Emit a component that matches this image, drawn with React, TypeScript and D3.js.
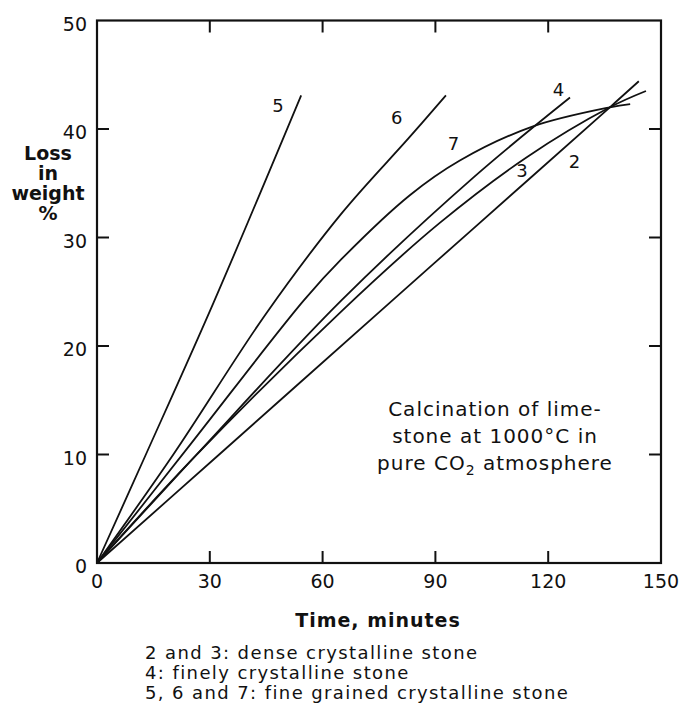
import React, { useEffect } from "react";
import * as d3 from "d3";

// Calcination of limestone: loss in weight (%) vs time (minutes)
const curve2 = [[0, 0], [32.5, 10], [77.9, 24], [100, 30.8], [136.4, 42.0], [144.1, 44.4]];
const curve3 = [[0, 0], [26, 9.8], [65, 23.2], [91, 31.3], [114.3, 37.4], [136.4, 42.0], [146, 43.5]];
const curve4 = [[0, 0], [26.5, 10], [65, 24.2], [100, 35.5], [125.8, 42.9]];
const curve5 = [[0, 0], [13, 10], [31, 24], [54.3, 43.1]];
const curve6 = [[0, 0], [20.3, 10], [45, 23], [65, 32.2], [83, 39.2], [92.8, 43.1]];
const curve7 = [[0, 0], [25, 11], [55, 24.2], [65, 28.0], [83.2, 33.9], [96.5, 37.1], [115.6, 40.2], [136.4, 42.0], [141.8, 42.3]];

const curves = [curve2, curve3, curve4, curve5, curve6, curve7];
const curveLabels = ["2", "3", "4", "5", "6", "7"];
// label anchor (time, loss) for each curve number
const labelPos = [[127, 37.0], [113, 36.2], [122.7, 43.6], [48.1, 42.2], [79.7, 41.1], [94.8, 38.7]];

const xTicks = [0, 30, 60, 90, 120, 150];
const yTicks = [0, 10, 20, 30, 40, 50];
const yTitle = ["Loss", "in", "weight", "%"];
const legendLines = [
  "2 and 3: dense crystalline stone",
  "4: finely crystalline stone",
  "5, 6 and 7: fine grained crystalline stone",
];

const W = 680;
const H = 712;
const font = "'DejaVu Sans', sans-serif";

export default function App() {
  useEffect(() => {
    document.body.style.margin = "0";
  }, []);

  const x = d3.scaleLinear().domain([0, 150]).range([97, 661]);
  const y = d3.scaleLinear().domain([0, 50]).range([563, 20.5]);

  const line = d3
    .line<number[]>()
    .x((d) => x(d[0]))
    .y((d) => y(d[1]))
    .curve(d3.curveCatmullRom.alpha(0.5));

  const tickLen = 12;
  const inner = xTicks.slice(1, -1);
  const innerY = yTicks.slice(1, -1);

  return (
    <svg width={W} height={H} style={{ display: "block", background: "#fff" }} fontFamily={font}>
      {/* curves */}
      {curves.map((c, i) => (
        <path key={i} d={line(c) || ""} fill="none" stroke="#111" strokeWidth={1.8} />
      ))}

      {/* frame */}
      <rect
        x={x(0)}
        y={y(50)}
        width={x(150) - x(0)}
        height={y(0) - y(50)}
        fill="none"
        stroke="#111"
        strokeWidth={2.2}
      />

      {/* inward ticks */}
      {inner.map((t) => (
        <g key={"xt" + t} stroke="#111" strokeWidth={2}>
          <line x1={x(t)} x2={x(t)} y1={y(0)} y2={y(0) - tickLen} />
          <line x1={x(t)} x2={x(t)} y1={y(50)} y2={y(50) + tickLen} />
        </g>
      ))}
      {innerY.map((t) => (
        <g key={"yt" + t} stroke="#111" strokeWidth={2}>
          <line x1={x(0)} x2={x(0) + tickLen} y1={y(t)} y2={y(t)} />
          <line x1={x(150)} x2={x(150) - tickLen} y1={y(t)} y2={y(t)} />
        </g>
      ))}

      {/* tick labels */}
      {xTicks.map((t) => (
        <text key={"xl" + t} x={x(t)} y={y(0) + 25} textAnchor="middle" fontSize={19} fill="#111">
          {t}
        </text>
      ))}
      {yTicks.map((t) => (
        <text key={"yl" + t} x={x(0) - 10} y={y(t) + 10} textAnchor="end" fontSize={19} fill="#111">
          {t}
        </text>
      ))}

      {/* curve numbers */}
      {curveLabels.map((l, i) => (
        <text
          key={"cl" + l}
          x={x(labelPos[i][0])}
          y={y(labelPos[i][1])}
          textAnchor="middle"
          dominantBaseline="central"
          fontSize={18}
          fill="#111"
        >
          {l}
        </text>
      ))}

      {/* axis titles */}
      {yTitle.map((s, i) => (
        <text
          key={"yt" + s}
          x={48}
          y={160 + i * 20}
          textAnchor="middle"
          fontSize={19}
          fontWeight="bold"
          fill="#111"
        >
          {s}
        </text>
      ))}
      <text
        x={378}
        y={627}
        textAnchor="middle"
        fontSize={19}
        fontWeight="bold"
        letterSpacing={1}
        fill="#111"
      >
        Time, minutes
      </text>

      {/* annotation */}
      <g fontSize={20} fill="#111" textAnchor="middle" letterSpacing={1}>
        <text x={495} y={416}>Calcination of lime-</text>
        <text x={495} y={443}>stone at 1000°C in</text>
        <text x={495} y={470}>
          pure CO<tspan fontSize={14} dy={5}>2</tspan>
          <tspan dy={-5}> atmosphere</tspan>
        </text>
      </g>

      {/* legend */}
      <g fontSize={18} fill="#111" letterSpacing={1.4}>
        {legendLines.map((s, i) => (
          <text key={"lg" + i} x={145} y={659 + i * 20}>
            {s}
          </text>
        ))}
      </g>
    </svg>
  );
}
